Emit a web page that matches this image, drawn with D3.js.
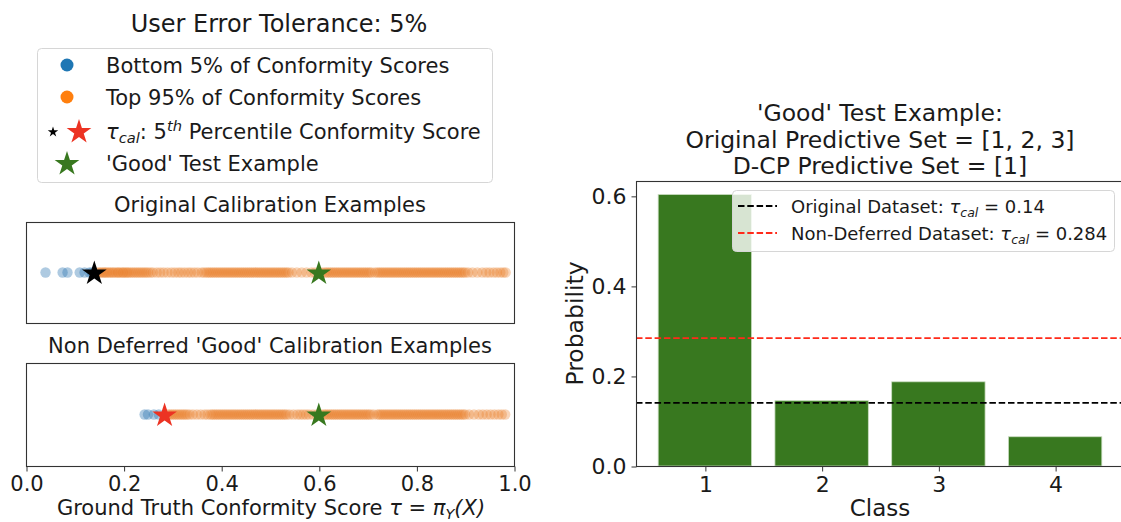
<!DOCTYPE html>
<html>
<head>
<meta charset="utf-8">
<script src="https://cdn.jsdelivr.net/npm/d3@7"></script>
<style>
  html, body { margin: 0; padding: 0; background: #fff; }
  svg { display: block; font-family: "DejaVu Sans", sans-serif; }
  text { fill: #1a1a1a; }
</style>
</head>
<body>
<svg id="chart" width="1121" height="522"></svg>
<script>
// ---- data ----
// Conformity scores of the original calibration set
const origBottom = [0.04, 0.075, 0.085, 0.11, 0.12, 0.13, 0.135];
const origTop = [0.145,0.15,0.153,0.157,0.16,0.163,0.166,0.17,0.173,0.177,0.18,0.184,0.188,0.19,0.194,0.198,0.2,0.204,0.207,0.21,0.214,0.218,0.222,0.226,0.23,0.234,0.238,0.242,0.246,0.25,0.255,0.26,0.268,0.275,0.282,0.29,0.298,0.305,0.312,0.318,0.325,0.332,0.338,0.345,0.352,0.36,0.365,0.37,0.374,0.378,0.382,0.386,0.39,0.394,0.398,0.402,0.406,0.41,0.414,0.418,0.422,0.426,0.43,0.434,0.438,0.442,0.446,0.45,0.454,0.458,0.462,0.466,0.47,0.474,0.478,0.482,0.486,0.49,0.494,0.498,0.502,0.506,0.51,0.514,0.518,0.522,0.526,0.53,0.534,0.538,0.545,0.555,0.565,0.575,0.585,0.592,0.6,0.606,0.612,0.616,0.62,0.624,0.628,0.632,0.636,0.64,0.644,0.648,0.652,0.656,0.66,0.664,0.668,0.672,0.676,0.68,0.684,0.688,0.692,0.696,0.7,0.704,0.708,0.715,0.72,0.724,0.728,0.732,0.736,0.74,0.744,0.748,0.752,0.756,0.76,0.764,0.768,0.772,0.776,0.78,0.784,0.788,0.792,0.796,0.8,0.804,0.808,0.812,0.816,0.82,0.824,0.828,0.832,0.836,0.84,0.844,0.848,0.852,0.856,0.86,0.864,0.868,0.872,0.876,0.88,0.884,0.888,0.892,0.896,0.9,0.906,0.915,0.925,0.935,0.943,0.95,0.958,0.965,0.972,0.978,0.983];
// Conformity scores of the non-deferred 'good' calibration subset
const goodBottom = [0.243, 0.25, 0.262, 0.272];
const goodTop = [0.29,0.294,0.298,0.302,0.306,0.31,0.314,0.318,0.322,0.326,0.33,0.335,0.342,0.35,0.358,0.366,0.372,0.378,0.382,0.386,0.39,0.394,0.398,0.402,0.406,0.41,0.414,0.418,0.422,0.426,0.43,0.434,0.438,0.442,0.446,0.45,0.454,0.458,0.462,0.466,0.47,0.474,0.478,0.482,0.486,0.49,0.494,0.498,0.502,0.506,0.51,0.514,0.518,0.522,0.526,0.53,0.534,0.54,0.548,0.556,0.562,0.568,0.574,0.58,0.588,0.596,0.604,0.61,0.614,0.618,0.622,0.626,0.63,0.634,0.638,0.642,0.646,0.65,0.654,0.658,0.662,0.666,0.67,0.674,0.678,0.682,0.686,0.69,0.694,0.698,0.702,0.706,0.712,0.72,0.724,0.728,0.732,0.736,0.74,0.744,0.748,0.752,0.756,0.76,0.764,0.768,0.772,0.776,0.78,0.784,0.788,0.792,0.796,0.8,0.804,0.808,0.812,0.816,0.82,0.824,0.828,0.832,0.836,0.84,0.844,0.848,0.852,0.856,0.86,0.864,0.868,0.872,0.876,0.88,0.884,0.888,0.892,0.896,0.9,0.908,0.918,0.928,0.936,0.944,0.952,0.96,0.968,0.975,0.982];
const tauOrig = 0.14;
const tauGood = 0.284;
const testScore = 0.6;
const scoreTicks = [0.0, 0.2, 0.4, 0.6, 0.8, 1.0];

// Predicted class probabilities of the test example
const classes = [1, 2, 3, 4];
const probs = [0.603, 0.145, 0.187, 0.065];
const probTicks = [0.0, 0.2, 0.4, 0.6];
const thresholds = [
  { name: "Original Dataset: ", value: tauOrig, color: "#000000" },
  { name: "Non-Deferred Dataset: ", value: tauGood, color: "#ff2a1a" }
];

const BLUE = "#1f77b4", ORANGE = "#ff7f0e", GREEN = "#38781f", RED = "#ec3323";
const DOT_ORANGE = "#ea7f2a", DOT_BLUE = "#2a74b0";
const svg = d3.select("#chart");

// five-pointed star path, centred on the origin
function starPath(r) {
  const pts = [];
  for (let i = 0; i < 10; i++) {
    const rad = i % 2 === 0 ? r : r * 0.382;
    const a = -Math.PI / 2 + i * Math.PI / 5;
    pts.push([rad * Math.cos(a), rad * Math.sin(a)]);
  }
  return "M" + pts.map(p => p[0].toFixed(2) + "," + p[1].toFixed(2)).join("L") + "Z";
}

// ---- left panel: score strips ----
const xs = d3.scaleLinear().domain([0, 1]).range([26, 514]);

svg.append("text").attr("x", 279).attr("y", 32).attr("text-anchor", "middle")
  .attr("font-size", 24).text("User Error Tolerance: 5%");

// legend
const lg = svg.append("g");
lg.append("rect").attr("x", 37.5).attr("y", 48.5).attr("width", 455).attr("height", 134)
  .attr("rx", 4).attr("fill", "#fff").attr("stroke", "#d6d6d6");
const legRows = [65, 97, 131, 163];
lg.append("circle").attr("cx", 67).attr("cy", legRows[0]).attr("r", 6.5).attr("fill", BLUE);
lg.append("circle").attr("cx", 67).attr("cy", legRows[1]).attr("r", 6.5).attr("fill", ORANGE);
lg.append("path").attr("d", starPath(5.5)).attr("transform", `translate(53,${legRows[2] + 1})`).attr("fill", "#000");
lg.append("path").attr("d", starPath(13)).attr("transform", `translate(79,${legRows[2] + 1})`).attr("fill", RED);
lg.append("path").attr("d", starPath(13)).attr("transform", `translate(67,${legRows[3] + 1})`).attr("fill", GREEN);
const legFs = 21;
const legTextX = 106;
lg.append("text").attr("x", legTextX).attr("y", legRows[0] + 7.5).attr("font-size", legFs).text("Bottom 5% of Conformity Scores");
lg.append("text").attr("x", legTextX).attr("y", legRows[1] + 7.5).attr("font-size", legFs).text("Top 95% of Conformity Scores");
{
  const t = lg.append("text").attr("x", legTextX).attr("y", legRows[2] + 7.5).attr("font-size", legFs);
  t.append("tspan").attr("font-style", "italic").text("τ");
  t.append("tspan").attr("font-style", "italic").attr("font-size", legFs * 0.7).attr("dy", 4).text("cal");
  t.append("tspan").attr("dy", -4).text(": 5");
  t.append("tspan").attr("font-style", "italic").attr("font-size", legFs * 0.7).attr("dy", -8).text("th");
  t.append("tspan").attr("dy", 8).text(" Percentile Conformity Score");
}
lg.append("text").attr("x", legTextX).attr("y", legRows[3] + 7.5).attr("font-size", legFs).text("'Good' Test Example");

function strip(top, bottom, title, lowPts, highPts, tau, tauColor, showAxis) {
  const g = svg.append("g");
  const cy = (top + bottom) / 2;
  g.append("text").attr("x", (xs(0) + xs(1)) / 2).attr("y", top - 10).attr("text-anchor", "middle")
    .attr("font-size", 21).text(title);
  g.selectAll("circle.hi").data(highPts).join("circle").attr("class", "hi")
    .attr("cx", d => xs(d)).attr("cy", cy).attr("r", 5.2).attr("fill", DOT_ORANGE).attr("fill-opacity", 0.33);
  g.selectAll("circle.lo").data(lowPts).join("circle").attr("class", "lo")
    .attr("cx", d => xs(d)).attr("cy", cy).attr("r", 5.2).attr("fill", DOT_BLUE).attr("fill-opacity", 0.38);
  g.append("path").attr("d", starPath(13)).attr("transform", `translate(${xs(tau)},${cy + 1})`).attr("fill", tauColor);
  g.append("path").attr("d", starPath(13)).attr("transform", `translate(${xs(testScore)},${cy + 1})`).attr("fill", GREEN);
  g.append("rect").attr("x", xs(0) + 0.5).attr("y", top + 0.5).attr("width", xs(1) - xs(0)).attr("height", bottom - top)
    .attr("fill", "none").attr("stroke", "#333").attr("stroke-width", 1.1);
  if (showAxis) {
    const ax = g.append("g").attr("transform", `translate(0.5,${bottom + 0.5})`)
      .call(d3.axisBottom(xs).tickValues(scoreTicks).tickFormat(d3.format(".1f")).tickSize(5).tickPadding(5));
    ax.select(".domain").remove();
    ax.selectAll("line").attr("stroke", "#333");
    ax.selectAll("text").attr("font-size", 21).attr("font-family", "DejaVu Sans").attr("fill", "#1a1a1a");
  }
}
strip(222, 323, "Original Calibration Examples", origBottom, origTop, tauOrig, "#000", false);
strip(363, 466, "Non Deferred 'Good' Calibration Examples", goodBottom, goodTop, tauGood, RED, true);

{
  const t = svg.append("text").attr("x", 271).attr("y", 515).attr("text-anchor", "middle").attr("font-size", 21);
  t.append("tspan").text("Ground Truth Conformity Score ");
  t.append("tspan").attr("font-style", "italic").text("τ");
  t.append("tspan").text(" = ");
  t.append("tspan").attr("font-style", "italic").text("π");
  t.append("tspan").attr("font-style", "italic").attr("font-size", 14.5).attr("dy", 4).text("Y");
  t.append("tspan").attr("dy", -4).attr("font-style", "italic").text("(X)");
}

// ---- right panel: class probabilities ----
const xc = d3.scaleLinear().domain([0.41, 4.59]).range([636, 1124]);
const yp = d3.scaleLinear().domain([0, 0.633]).range([466, 181]);
const rg = svg.append("g");

["'Good' Test Example:", "Original Predictive Set = [1, 2, 3]", "D-CP Predictive Set = [1]"].forEach((s, i) => {
  rg.append("text").attr("x", 880).attr("y", 121 + i * 26.5).attr("text-anchor", "middle").attr("font-size", 23.5).text(s);
});

rg.selectAll("rect.bar").data(classes).join("rect").attr("class", "bar")
  .attr("x", d => xc(d - 0.4)).attr("width", d => xc(d + 0.4) - xc(d - 0.4))
  .attr("y", (d, i) => yp(probs[i])).attr("height", (d, i) => yp(0) - yp(probs[i]))
  .attr("fill", GREEN).attr("stroke", "#c9dcc0").attr("stroke-width", 0.8);

rg.selectAll("line.thr").data(thresholds).join("line").attr("class", "thr")
  .attr("x1", xc(0.41)).attr("x2", xc(4.59)).attr("y1", d => yp(d.value)).attr("y2", d => yp(d.value))
  .attr("stroke", d => d.color).attr("stroke-width", 1.8).attr("stroke-dasharray", "6.5,2.8");

// axes frame
rg.append("rect").attr("x", xc(0.41) + 0.5).attr("y", yp(0.633) + 0.5).attr("width", xc(4.59) - xc(0.41)).attr("height", yp(0) - yp(0.633))
  .attr("fill", "none").attr("stroke", "#333").attr("stroke-width", 1.1);

const ya = rg.append("g").attr("transform", `translate(${xc(0.41) + 0.5},0.5)`)
  .call(d3.axisLeft(yp).tickValues(probTicks).tickFormat(d3.format(".1f")).tickSize(5).tickPadding(5));
ya.select(".domain").remove();
ya.selectAll("line").attr("stroke", "#333");
ya.selectAll("text").attr("font-size", 22).attr("font-family", "DejaVu Sans").attr("fill", "#1a1a1a");

const xa = rg.append("g").attr("transform", `translate(0.5,${yp(0) + 0.5})`)
  .call(d3.axisBottom(xc).tickValues(classes).tickFormat(d3.format("d")).tickSize(5).tickPadding(5));
xa.select(".domain").remove();
xa.selectAll("line").attr("stroke", "#333");
xa.selectAll("text").attr("font-size", 22).attr("font-family", "DejaVu Sans").attr("fill", "#1a1a1a");

rg.append("text").attr("transform", `translate(583,${(yp(0) + yp(0.633)) / 2}) rotate(-90)`)
  .attr("text-anchor", "middle").attr("font-size", 23.5).text("Probability");
rg.append("text").attr("x", 880).attr("y", 516).attr("text-anchor", "middle").attr("font-size", 23).text("Class");

// threshold legend
const rl = rg.append("g");
rl.append("rect").attr("x", 732.5).attr("y", 190.5).attr("width", 382).attr("height", 61).attr("rx", 4)
  .attr("fill", "#fff").attr("fill-opacity", 0.8).attr("stroke", "#d6d6d6");
thresholds.forEach((d, i) => {
  const cy = 206 + i * 27;
  rl.append("line").attr("x1", 738).attr("x2", 777).attr("y1", cy).attr("y2", cy)
    .attr("stroke", d.color).attr("stroke-width", 1.8).attr("stroke-dasharray", "6.5,2.8");
  const t = rl.append("text").attr("x", 791).attr("y", cy + 6.5).attr("font-size", 18);
  t.append("tspan").text(d.name);
  t.append("tspan").attr("font-style", "italic").text("τ");
  t.append("tspan").attr("font-style", "italic").attr("font-size", 12.5).attr("dy", 4).text("cal");
  t.append("tspan").attr("dy", -4).text(" = " + d.value);
});
</script>
</body>
</html>
